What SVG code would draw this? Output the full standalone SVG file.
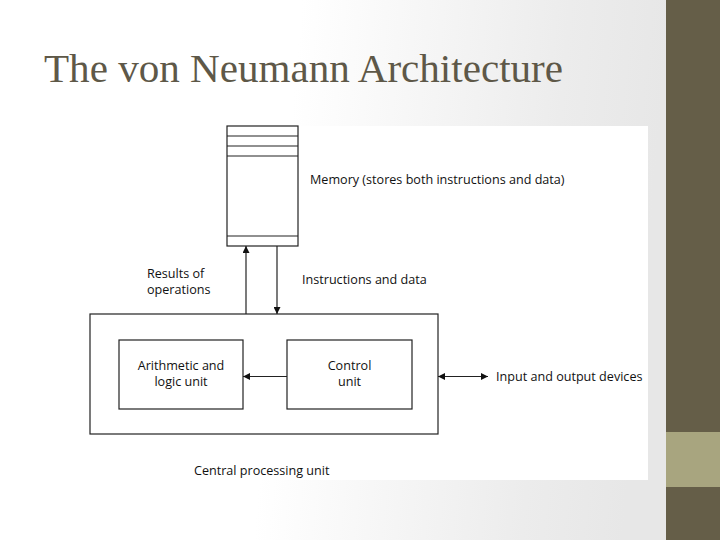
<svg xmlns="http://www.w3.org/2000/svg" width="720" height="540" viewBox="0 0 720 540">
<defs>
<linearGradient id="bg" x1="0" y1="0" x2="666" y2="60" gradientUnits="userSpaceOnUse">
<stop offset="0.45" stop-color="#ffffff"/>
<stop offset="0.85" stop-color="#ececec"/>
<stop offset="1" stop-color="#e7e7e7"/>
</linearGradient>
<marker id="ah" viewBox="0 0 10 10" refX="10" refY="5" markerWidth="7" markerHeight="7" markerUnits="userSpaceOnUse" orient="auto-start-reverse">
<path d="M0,0 L10,5 L0,10 z" fill="#111"/>
</marker>
<style>
.box{fill:#fff;stroke:#222;stroke-width:1.2}
.ln{stroke:#222;stroke-width:1.2;fill:none}
.t{font-family:"Open Sans","Liberation Sans",sans-serif;font-size:12.6px;fill:#111}
.c{text-anchor:middle}
</style>
</defs>
<rect x="0" y="0" width="720" height="540" fill="url(#bg)"/>
<rect x="666" y="0" width="54" height="540" fill="#655e48"/>
<rect x="666" y="432" width="54" height="55" fill="#a8a57f"/>
<text x="44" y="82" font-family="'Liberation Serif',serif" font-size="41" fill="#5e5848" textLength="519" lengthAdjust="spacingAndGlyphs">The von Neumann Architecture</text>
<rect x="70" y="126" width="578" height="354" fill="#ffffff"/>

<g id="memory">
<rect class="box" x="227" y="126" width="71" height="120"/>
<line class="ln" x1="227" y1="136" x2="298" y2="136"/>
<line class="ln" x1="227" y1="146" x2="298" y2="146"/>
<line class="ln" x1="227" y1="156" x2="298" y2="156" stroke="#777"/>
<line class="ln" x1="227" y1="236" x2="298" y2="236"/>
<text class="t" x="310" y="184">Memory (stores both instructions and data)</text>
</g>

<g id="cpu">
<rect class="box" x="90" y="314" width="348" height="120"/>
<text class="t" x="194" y="475">Central processing unit</text>
</g>

<g id="alu">
<rect class="box" x="119" y="340" width="124" height="69"/>
<text class="t c" x="181" y="370">Arithmetic and</text>
<text class="t c" x="181" y="386">logic unit</text>
</g>

<g id="control">
<rect class="box" x="287" y="340" width="125" height="69"/>
<text class="t c" x="349.5" y="370">Control</text>
<text class="t c" x="349.5" y="386">unit</text>
</g>

<g id="io">
<text class="t" x="496" y="381">Input and output devices</text>
</g>

<g id="connectors">
<line class="ln" x1="246" y1="314" x2="246" y2="246" marker-end="url(#ah)"/>
<line class="ln" x1="277" y1="246" x2="277" y2="314" marker-end="url(#ah)"/>
<line class="ln" x1="287" y1="376.5" x2="243" y2="376.5" marker-end="url(#ah)"/>
<line class="ln" x1="438" y1="376.5" x2="488" y2="376.5" marker-start="url(#ah)" marker-end="url(#ah)"/>
<text class="t" x="147" y="278">Results of</text>
<text class="t" x="147" y="294">operations</text>
<text class="t" x="302" y="284">Instructions and data</text>
</g>
</svg>
